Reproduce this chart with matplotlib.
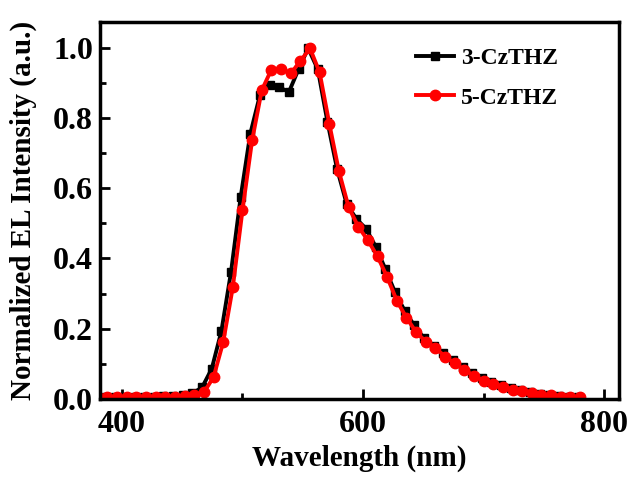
import numpy as np
from matplotlib import pyplot as plt
from matplotlib.ticker import MultipleLocator

# wavelength grids (nm)
wl_3 = [378.5, 386.5, 394.5, 402.5, 410.5, 418.5, 426.5, 434.5, 442.5, 450.5,
        458.5, 466.5, 474.5, 482.5, 490.5, 498.5, 506.5, 514.5, 522.5, 530.5,
        538.5, 546.5, 554.5, 562.5, 570.5, 578.5, 586.5, 594.5, 602.5, 610.5,
        618.5, 626.5, 634.5, 642.5, 650.5, 658.5, 666.5, 674.5, 682.5, 690.5,
        698.5, 706.5, 714.5, 722.5, 730.5, 738.5, 746.5, 754.5, 762.5, 770.5,
        778.5]
wl_5 = [380, 388, 396, 404, 412, 420, 428, 436, 444, 452,
        460, 468, 476, 484, 492, 500, 508, 516, 524, 532,
        540, 548, 556, 564, 572, 580, 588, 596, 604, 612,
        620, 628, 636, 644, 652, 660, 668, 676, 684, 692,
        700, 708, 716, 724, 732, 740, 748, 756, 764, 772,
        780]

el_3 = [0.006, 0.006, 0.006, 0.006, 0.006, 0.006, 0.006, 0.007, 0.008, 0.010,
        0.015, 0.032, 0.085, 0.192, 0.361, 0.575, 0.756, 0.866, 0.894, 0.889,
        0.875, 0.940, 1.000, 0.940, 0.790, 0.655, 0.555, 0.513, 0.485, 0.434,
        0.370, 0.304, 0.251, 0.209, 0.173, 0.151, 0.130, 0.110, 0.090, 0.072,
        0.058, 0.047, 0.038, 0.030, 0.024, 0.018, 0.014, 0.010, 0.008, 0.006,
        0.005]
el_5 = [0.004, 0.004, 0.004, 0.004, 0.004, 0.004, 0.004, 0.005, 0.006, 0.008,
        0.011, 0.018, 0.061, 0.161, 0.318, 0.537, 0.737, 0.880, 0.939, 0.942,
        0.928, 0.963, 1.000, 0.931, 0.785, 0.649, 0.547, 0.491, 0.452, 0.406,
        0.347, 0.280, 0.231, 0.190, 0.163, 0.145, 0.120, 0.101, 0.082, 0.066,
        0.051, 0.042, 0.034, 0.026, 0.021, 0.015, 0.011, 0.009, 0.006, 0.005,
        0.005]

plt.rcParams['font.family'] = ['Liberation Serif', 'DejaVu Serif']
plt.rcParams['font.weight'] = 'bold'

fig = plt.figure(figsize=(6.3, 4.78), dpi=100)
ax = fig.add_axes([0.159, 0.166, 0.823, 0.788])

ax.plot(wl_3, el_3, color='black', lw=2.8, marker='s', ms=5.5, label='3-CzTHZ')
ax.plot(wl_5, el_5, color='red', lw=2.8, marker='o', ms=7.5, label='5-CzTHZ')

ax.set_xlim(382, 812)
ax.set_ylim(0, 1.075)
ax.xaxis.set_major_locator(MultipleLocator(200))
ax.xaxis.set_minor_locator(MultipleLocator(100))
ax.yaxis.set_major_locator(MultipleLocator(0.2))
ax.yaxis.set_minor_locator(MultipleLocator(0.1))
ax.yaxis.set_major_formatter(lambda v, p: f'{v:.1f}')

ax.tick_params(which='both', direction='in', width=2, labelsize=23, pad=5)
ax.tick_params(axis='x', which='both', pad=8)
ax.tick_params(which='major', length=7)
ax.tick_params(which='minor', length=4)
for s in ax.spines.values():
    s.set_linewidth(2.5)

ax.set_xlabel('Wavelength (nm)', fontsize=21, fontweight='bold', labelpad=4)
ax.set_ylabel('Normalized EL Intensity (a.u.)', fontsize=21, fontweight='bold', labelpad=12)

leg = ax.legend(loc='upper right', frameon=False, fontsize=17, handlelength=1.6,
                borderaxespad=0.3, labelspacing=0.75, handletextpad=0.3,
                bbox_to_anchor=(0.915, 0.975))

fig.savefig('out.png', dpi=100)
